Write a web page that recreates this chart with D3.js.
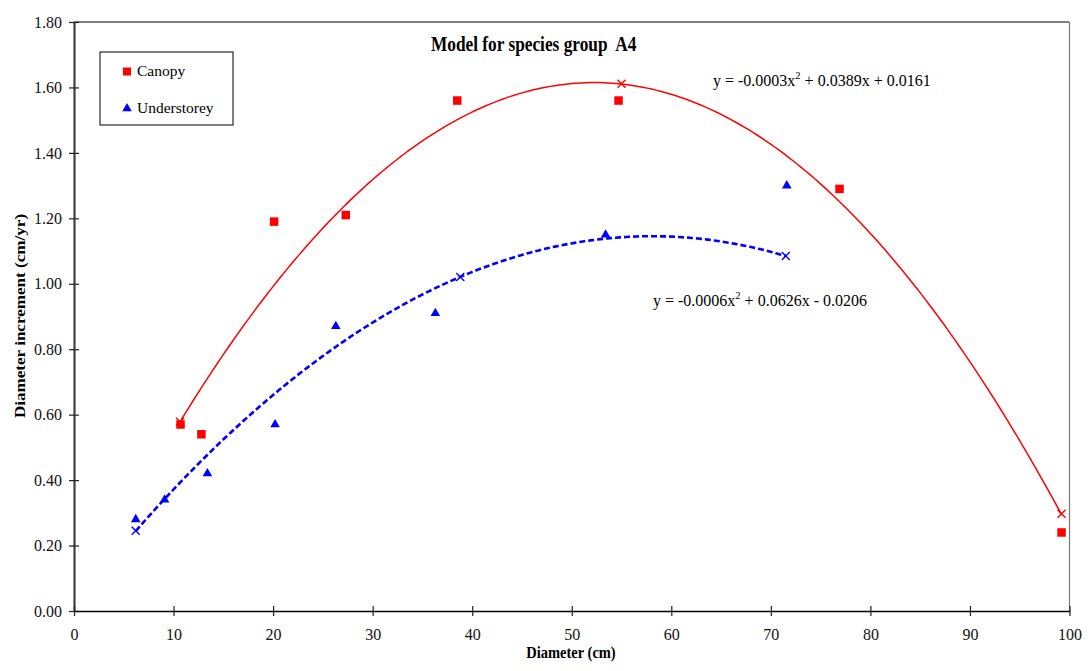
<!DOCTYPE html>
<html><head><meta charset="utf-8">
<script src="https://cdn.jsdelivr.net/npm/d3@7"></script>
<style>body{margin:0;background:#fff}svg{display:block}text{font-family:"Liberation Serif","Times New Roman",serif;white-space:pre}</style>
</head><body>
<script>
// Observed data
const canopyX = [10.7, 12.8, 20.1, 27.3, 38.5, 54.7, 76.9, 99.2];
const canopyY = [0.57, 0.54, 1.19, 1.21, 1.56, 1.56, 1.29, 0.24];
const underX = [6.2, 9.1, 13.4, 20.2, 26.3, 36.3, 53.4, 71.6];
const underY = [0.28, 0.34, 0.42, 0.57, 0.87, 0.91, 1.15, 1.30];
// Model (trend) points marked with x
const canopyFitX = [10.65, 55.0, 99.2];
const canopyFitY = [0.578, 1.611, 0.297];
const underFitX = [6.2, 38.8, 71.5];
const underFitY = [0.245, 1.021, 1.085];
// Quadratic trend coefficients [a, b, c]
const canopyCoef = [-0.000599, 0.0626, -0.0206];
const underCoef = [-0.000335, 0.0389, 0.0161];
// Ticks
const xTicks = [0,10,20,30,40,50,60,70,80,90,100];
const yTicks = [0,0.2,0.4,0.6,0.8,1.0,1.2,1.4,1.6,1.8];

const W = 1088, H = 671;
const svg = d3.select("body").append("svg").attr("width", W).attr("height", H);
const x = d3.scaleLinear().domain([0,100]).range([74,1069.5]);
const y = d3.scaleLinear().domain([0,1.8]).range([611,22]);

// frame: top & right
svg.append("line").attr("x1",74).attr("x2",1069.5).attr("y1",22).attr("y2",22).attr("stroke","#000").attr("stroke-width",1.2);
svg.append("line").attr("x1",1069.5).attr("x2",1069.5).attr("y1",22).attr("y2",611).attr("stroke","#777").attr("stroke-width",1.2);

// Axes
const yAxis = svg.append("g").attr("transform","translate(74,0)")
  .call(d3.axisLeft(y).tickValues(yTicks).tickFormat(d3.format(".2f")).tickSizeInner(5).tickSizeOuter(0).tickPadding(7));
yAxis.select(".domain").attr("stroke","#404040").attr("stroke-width",2.2);
yAxis.selectAll(".tick line").attr("x1",5).attr("x2",-5).attr("stroke","#222").attr("stroke-width",1.2);
yAxis.selectAll("text").attr("font-size",16).attr("fill","#111").attr("x",-12);

const xAxis = svg.append("g").attr("transform","translate(0,611)")
  .call(d3.axisBottom(x).tickValues(xTicks).tickFormat(d3.format("d")).tickSizeInner(5).tickSizeOuter(0));
xAxis.select(".domain").attr("stroke","#000").attr("stroke-width",1.5);
xAxis.selectAll(".tick line").attr("y1",-5).attr("y2",5).attr("stroke","#222").attr("stroke-width",1.2);
xAxis.selectAll("text").attr("font-size",16).attr("fill","#111").attr("y",17.5);

// Trend curves
function curvePts(coef, x0, x1){
  return d3.range(0,201).map(i=>{const xv=x0+(x1-x0)*i/200; return [xv, coef[0]*xv*xv+coef[1]*xv+coef[2]];});
}
const line = d3.line().x(d=>x(d[0])).y(d=>y(d[1]));
svg.append("path").attr("d", line(curvePts(canopyCoef, canopyFitX[0], canopyFitX[2])))
  .attr("fill","none").attr("stroke","#ff0000").attr("stroke-width",1.5);
svg.append("path").attr("d", line(curvePts(underCoef, underFitX[0], underFitX[2])))
  .attr("fill","none").attr("stroke","#0000ff").attr("stroke-width",2.6).attr("stroke-dasharray","6,3");

// x markers
function xMark(px,py,col){
  const s=4;
  svg.append("path").attr("d",`M${px-s},${py-s}L${px+s},${py+s}M${px-s},${py+s}L${px+s},${py-s}`)
    .attr("stroke",col).attr("stroke-width",1.4).attr("fill","none");
}
// squares
const sq = 8.5;
svg.append("g").selectAll("rect").data(canopyX.map((v,i)=>[v,canopyY[i]])).join("rect")
  .attr("x",d=>x(d[0])-sq/2).attr("y",d=>y(d[1])-sq/2).attr("width",sq).attr("height",sq).attr("fill","#ff0000");
// triangles
const tri = d3.symbol().type(d3.symbolTriangle).size(40);
svg.append("g").selectAll("path").data(underX.map((v,i)=>[v,underY[i]])).join("path")
  .attr("d",tri).attr("transform",d=>`translate(${x(d[0])},${y(d[1])})`).attr("fill","#0000ff");
canopyFitX.forEach((v,i)=>xMark(x(v),y(canopyFitY[i]),"#ff0000"));
underFitX.forEach((v,i)=>xMark(x(v),y(underFitY[i]),"#0000ff"));

// Title
svg.append("text").attr("transform","translate(431,50.5) scale(1,1.15)").attr("font-size",17.3).attr("font-weight","bold").text("Model for species group  A4");

// equations
function eq(px,py,a,b,c){
  const t = svg.append("text").attr("x",px).attr("y",py).attr("font-size",16);
  t.append("tspan").text(a);
  t.append("tspan").attr("dy",-7).attr("font-size",10.5).text("2");
  t.append("tspan").attr("dy",7).text(b);
}
eq(713,86,"y = -0.0003x"," + 0.0389x + 0.0161");
eq(653,306,"y = -0.0006x"," + 0.0626x - 0.0206");

// Legend
svg.append("rect").attr("x",100).attr("y",52).attr("width",133).attr("height",73).attr("fill","#fff").attr("stroke","#000").attr("stroke-width",1);
svg.append("rect").attr("x",123).attr("y",67.5).attr("width",8).attr("height",8).attr("fill","#ff0000");
svg.append("text").attr("x",137).attr("y",76).attr("font-size",15.5).text("Canopy");
svg.append("path").attr("d",d3.symbol().type(d3.symbolTriangle).size(40)).attr("transform","translate(127,108.5)").attr("fill","#0000ff");
svg.append("text").attr("x",137).attr("y",113).attr("font-size",15.5).text("Understorey");

// Axis titles
svg.append("text").attr("transform","translate(571,658) scale(1,1.12)").attr("text-anchor","middle").attr("font-size",14.5).attr("font-weight","bold").text("Diameter (cm)");
svg.append("text").attr("transform","translate(24.5,316) rotate(-90) scale(1.22,1)").attr("text-anchor","middle").attr("font-size",14).attr("font-weight","bold").text("Diameter increment (cm/yr)");
</script>
</body></html>
